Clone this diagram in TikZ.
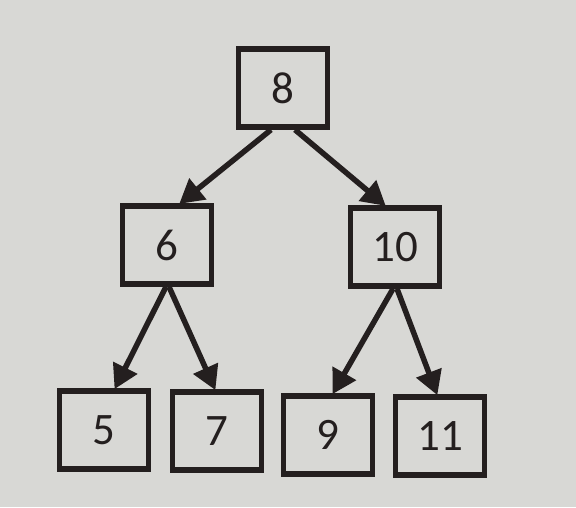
\documentclass[tikz,border=0pt]{standalone}
\usepackage{fontspec}
\setmainfont{Carlito}
\usetikzlibrary{arrows.meta}
\definecolor{paper}{RGB}{216,216,213}
\definecolor{ink}{RGB}{36,31,31}
\tikzset{
  keybox/.style={draw=ink, line width=5.5pt, minimum width=89pt, minimum height=78pt,
    inner sep=0pt, text=ink, font=\fontsize{45}{45}\selectfont},
  arr/.style={draw=ink, line width=5.5pt, -{Triangle[length=24pt,width=26pt]}, shorten >=-1pt}
}
\begin{document}
\begin{tikzpicture}[x=1pt,y=-1pt]
  \fill[paper] (0,0) rectangle (576,507);
  \useasboundingbox (0,0) rectangle (576,507);
  \node[keybox] (n8)  at (283,88)  {8};
  \node[keybox] (n6)  at (167,245) {6};
  \node[keybox] (n10) at (395,247) {10};
  \node[keybox] (n5)  at (104,430) {5};
  \node[keybox] (n7)  at (217,431) {7};
  \node[keybox] (n9)  at (328,435) {9};
  \node[keybox] (n11) at (440,436) {11};
  \draw[arr] ([xshift=-12pt]n8.south) -- ([xshift=13pt]n6.north);
  \draw[arr] ([xshift=12pt]n8.south) -- ([xshift=-10pt]n10.north);
  \draw[arr] ([xshift=-1pt]n6.south) -- ([xshift=11pt]n5.north);
  \draw[arr] ([xshift=2pt]n6.south) -- ([xshift=-2pt]n7.north);
  \draw[arr] ([xshift=-2pt]n10.south) -- ([xshift=5pt]n9.north);
  \draw[arr] ([xshift=2pt]n10.south) -- ([xshift=-3pt]n11.north);
\end{tikzpicture}
\end{document}
